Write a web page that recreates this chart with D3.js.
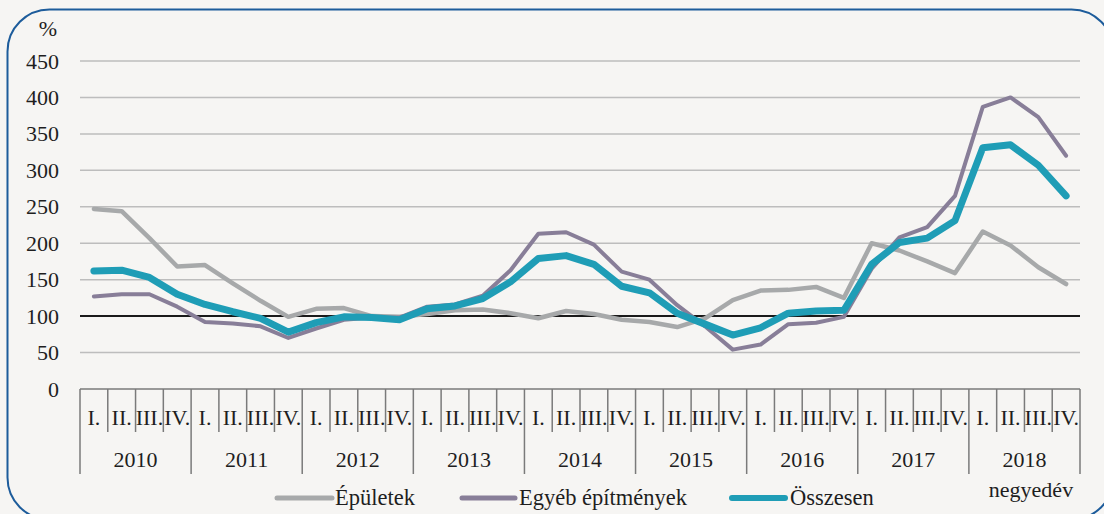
<!DOCTYPE html>
<html>
<head>
<meta charset="utf-8">
<script src="https://cdn.jsdelivr.net/npm/d3@7"></script>
<style>
  body { margin: 0; background: #ffffff; }
  svg { display: block; }
  svg text { font-family: "Liberation Serif", "DejaVu Serif", serif; fill: #1e1e1e; }
</style>
</head>
<body>
<svg id="chart" width="1104" height="514"></svg>
<script>
// Data
const years = ["2010", "2011", "2012", "2013", "2014", "2015", "2016", "2017", "2018"];
const quarters = ["I.", "II.", "III.", "IV."];
const yTicks = [0, 50, 100, 150, 200, 250, 300, 350, 400, 450];

const epuletek = [247, 244, 207, 168, 170, 145, 121, 99, 110, 111, 100, 99,
                  103, 108, 109, 104, 97, 107, 103, 95, 92, 85, 97, 122,
                  135, 136, 140, 125, 200, 190, 175, 159, 216, 197, 167, 144];
const egyeb = [127, 130, 130, 113, 92, 90, 86, 70, 83, 95, 98, 98,
               113, 116, 128, 163, 213, 215, 198, 161, 150, 115, 86, 54,
               61, 89, 91, 99, 165, 208, 222, 265, 387, 400, 373, 320];
const osszesen = [162, 163, 153, 130, 116, 106, 97, 78, 91, 99, 98, 95,
                  110, 114, 124, 147, 179, 183, 171, 141, 132, 104, 89, 74,
                  84, 104, 107, 108, 171, 201, 207, 231, 331, 335, 307, 265];

const seriesList = [
  { name: "Épületek", values: epuletek, color: "#a7a9aa", width: 4.5 },
  { name: "Egyéb építmények", values: egyeb, color: "#887e98", width: 4 },
  { name: "Összesen", values: osszesen, color: "#1f9db6", width: 7 }
];

const keys = [];
years.forEach(y => quarters.forEach(q => keys.push(y + "-" + q)));

const svg = d3.select("#chart");

// background + rounded frame
svg.append("rect")
  .attr("x", 0).attr("y", 0).attr("width", 1104).attr("height", 514)
  .attr("fill", "#f6f5f3");
svg.append("rect")
  .attr("x", 7.5).attr("y", 9.5)
  .attr("width", 1106).attr("height", 510)
  .attr("rx", 42).attr("ry", 42)
  .attr("fill", "none")
  .attr("stroke", "#1d5c9b")
  .attr("stroke-width", 2);

const plotLeft = 80, plotRight = 1080, plotTop = 61, plotBottom = 389;
const fs = 22;

const x = d3.scaleBand().domain(keys).range([plotLeft, plotRight]);
const y = d3.scaleLinear().domain([0, 450]).range([plotBottom, plotTop]);

// gridlines
svg.append("g")
  .selectAll("line")
  .data(yTicks.filter(d => d !== 0 && d !== 100))
  .enter()
  .append("line")
  .attr("x1", plotLeft).attr("x2", plotRight)
  .attr("y1", d => y(d)).attr("y2", d => y(d))
  .attr("stroke", "#bdbdbd")
  .attr("stroke-width", 1.5);

// y axis labels
const yAxis = svg.append("g")
  .attr("transform", `translate(${plotLeft - 21},0)`)
  .call(d3.axisLeft(y).tickValues(yTicks).tickSize(0).tickPadding(0));
yAxis.attr("font-family", null).attr("font-size", null);
yAxis.select(".domain").remove();
yAxis.selectAll("text")
  .attr("font-size", fs)
  .attr("fill", "#1e1e1e");

svg.append("text")
  .attr("x", 48).attr("y", 36)
  .attr("text-anchor", "middle")
  .attr("font-size", fs)
  .text("%");

// category axis
const axisG = svg.append("g").attr("stroke", "#7a7a7a").attr("stroke-width", 1.5);
axisG.append("line")
  .attr("x1", plotLeft).attr("x2", plotRight)
  .attr("y1", plotBottom).attr("y2", plotBottom);

const boundaries = keys.map(k => x(k)).concat([plotRight]);
axisG.selectAll(".tick")
  .data(boundaries)
  .enter()
  .append("line")
  .attr("x1", d => d).attr("x2", d => d)
  .attr("y1", plotBottom)
  .attr("y2", (d, i) => (i % 4 === 0) ? 474 : 432);

svg.append("g")
  .selectAll("text")
  .data(keys)
  .enter()
  .append("text")
  .attr("x", d => x(d) + x.bandwidth() / 2)
  .attr("y", 425)
  .attr("text-anchor", "middle")
  .attr("font-size", fs)
  .text(d => d.split("-")[1]);

svg.append("g")
  .selectAll("text")
  .data(years)
  .enter()
  .append("text")
  .attr("x", d => x(d + "-I.") + x.bandwidth() * 2)
  .attr("y", 467)
  .attr("text-anchor", "middle")
  .attr("font-size", fs)
  .text(d => d);

// 100 reference line
svg.append("line")
  .attr("x1", plotLeft).attr("x2", plotRight)
  .attr("y1", y(100)).attr("y2", y(100))
  .attr("stroke", "#1a1a1a")
  .attr("stroke-width", 2);

// lines
const line = d3.line()
  .x((d, i) => x(keys[i]) + x.bandwidth() / 2)
  .y(d => y(d));

seriesList.forEach(s => {
  svg.append("path")
    .datum(s.values)
    .attr("fill", "none")
    .attr("stroke", s.color)
    .attr("stroke-width", s.width)
    .attr("stroke-linejoin", "round")
    .attr("stroke-linecap", "round")
    .attr("d", line);
});

// legend
const legendPos = [
  { lx: 277, lx2: 332, tx: 335 },
  { lx: 462, lx2: 515, tx: 519 },
  { lx: 732, lx2: 785, tx: 790 }
];
const legend = svg.append("g");
seriesList.forEach((s, i) => {
  legend.append("line")
    .attr("x1", legendPos[i].lx).attr("x2", legendPos[i].lx2)
    .attr("y1", 498).attr("y2", 498)
    .attr("stroke", s.color)
    .attr("stroke-width", s.width === 7 ? 6 : 5)
    .attr("stroke-linecap", "round");
  legend.append("text")
    .attr("x", legendPos[i].tx)
    .attr("y", 505)
    .attr("font-size", 22.5)
    .text(s.name);
});

svg.append("text")
  .attr("x", 1031).attr("y", 497)
  .attr("text-anchor", "middle")
  .attr("font-size", fs)
  .text("negyedév");
</script>
</body>
</html>
